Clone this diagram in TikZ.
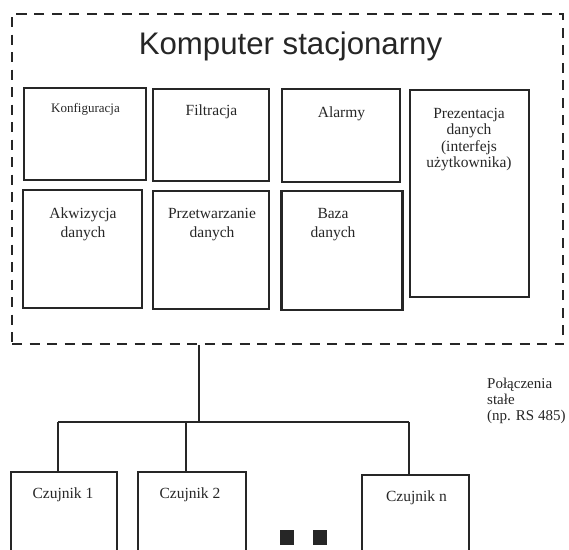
\documentclass[tikz,border=0pt]{standalone}
\usepackage{fontspec}
\setmainfont{Liberation Serif}
\newfontfamily\titlefont{Liberation Sans}
\begin{document}
\begin{tikzpicture}[x=1pt,y=-1pt,
  box/.style={draw=black!85,line width=2.2pt,rectangle,inner sep=0pt},
  txt/.style={inner sep=0pt,anchor=base,align=center,text=black!85,
    font=\fontsize{15.5}{19.5}\selectfont},
  txtsmall/.style={txt,font=\fontsize{13}{15}\selectfont},
  wire/.style={draw=black!85,line width=1.3pt},
  frame/.style={draw=black!85,line width=2.4pt,dash pattern=on 10pt off 7.5pt,
    rectangle,inner sep=0pt},
  dot/.style={fill=black!85,rectangle,inner sep=0pt,minimum width=14pt,minimum height=15pt}]
\useasboundingbox (0,0) rectangle (569,549);
\clip (0,0) rectangle (569,549);

% computer enclosure
\node[frame,minimum width=551pt,minimum height=330pt] (pc) at (287.5,179) {};
\node[inner sep=0pt,anchor=base,text=black!85,font=\titlefont\fontsize{31.2}{36}\selectfont]
  (title) at (290.5,54) {Komputer stacjonarny};

% software modules, upper row
\node[box,minimum width=122pt,minimum height=92pt] (konf) at (85,134) {};
\node[box,minimum width=116pt,minimum height=92pt] (filt) at (211,135) {};
\node[box,minimum width=118pt,minimum height=93pt] (alarm) at (341,135.5) {};
\node[box,minimum width=119pt,minimum height=207pt] (prez) at (469.5,193.5) {};
\node[txtsmall] (konf-t) at (85.5,112) {Konfiguracja};
\node[txt] (filt-t) at (211.5,115) {Filtracja};
\node[txt] (alarm-t) at (341.5,117) {Alarmy};
% multi-line texts: the base anchor sits on the last line
\node[txt,font=\fontsize{15.5}{16.5}\selectfont] (prez-t) at (469,167.5)
  {Prezentacja\\danych\\(interfejs\\użytkownika)};

% software modules, lower row
\node[box,minimum width=119pt,minimum height=118pt] (akw) at (82.5,249) {};
\node[box,minimum width=116pt,minimum height=118pt] (przetw) at (211,250) {};
\node[box,minimum width=121pt,minimum height=119pt] (baza) at (342,250.5) {};
\node[txt] (akw-t) at (83,237.5) {Akwizycja\\danych};
\node[txt] (przetw-t) at (212,237.5) {Przetwarzanie\\danych};
\node[txt] (baza-t) at (333,237.5) {Baza\\danych};

% sensors
\node[box,minimum width=106pt,minimum height=100pt] (c1) at (64,522) {};
\node[box,minimum width=108pt,minimum height=100pt] (c2) at (192,522) {};
\node[box,minimum width=107pt,minimum height=97pt] (cn) at (415.5,523.5) {};
\node[txt] (c1-t) at (63,498) {Czujnik 1};
\node[txt] (c2-t) at (190,498) {Czujnik 2};
\node[txt] (cn-t) at (416.5,501) {Czujnik n};
\node[dot] (dot1) at (287,537.5) {};
\node[dot] (dot2) at (319.5,537.5) {};

% bus label
\node[txt,anchor=base west,align=left,font=\fontsize{15}{16.3}\selectfont]
  (bus-t) at (487,420.6) {Połączenia\\stałe\\(np. RS 485)};

% fixed wiring
\coordinate (hub) at (199,422);
\coordinate (d1) at (58,422);
\coordinate (d2) at (186,422);
\coordinate (dn) at (409,422);
\draw[wire] (pc.south -| hub) -- (hub);
\draw[wire] (d1) -- (dn);
\draw[wire] (d1) -- (d1 |- c1.north);
\draw[wire] (d2) -- (d2 |- c2.north);
\draw[wire] (dn) -- (dn |- cn.north);
\end{tikzpicture}
\end{document}
